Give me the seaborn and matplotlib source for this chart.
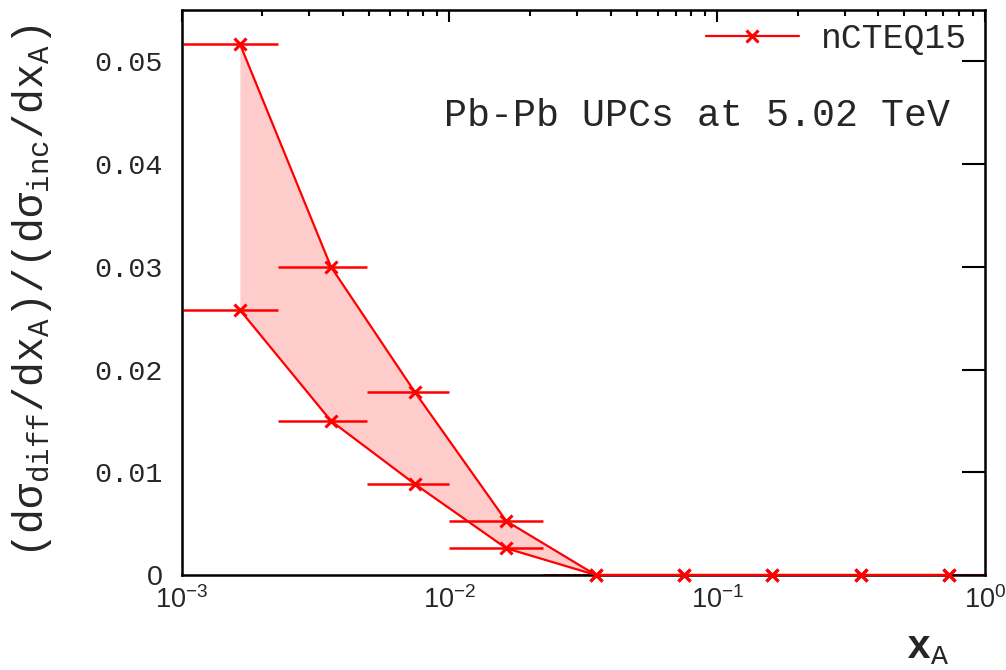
import matplotlib
matplotlib.use("Agg")
import matplotlib.pyplot as plt
import seaborn as sns
import numpy as np
import pandas as pd
from matplotlib.ticker import FixedLocator, FixedFormatter, LogLocator, NullFormatter

# ---- data ----
x_centers = [0.00165, 0.00361, 0.00743, 0.0163, 0.0352, 0.0751, 0.160, 0.344, 0.733]
x_low_edges = [0.00101, 0.00229, 0.00492, 0.0100, 0.0223, 0.0480, 0.102, 0.218, 0.470]
x_high_edges = [0.00229, 0.00492, 0.0100, 0.0223, 0.0480, 0.102, 0.218, 0.470, 1.0]
upper_vals = [0.0517, 0.0300, 0.0178, 0.00525, 0.0, 0.0, 0.0, 0.0, 0.0]
lower_vals = [0.0258, 0.0150, 0.00885, 0.0026, 0.0, 0.0, 0.0, 0.0, 0.0]

xtick_vals = [1e-3, 1e-2, 1e-1, 1.0]
xtick_labels = [r"$\mathsf{10^{-3}}$", r"$\mathsf{10^{-2}}$", r"$\mathsf{10^{-1}}$", r"$\mathsf{10^{0}}$"]
ytick_vals = [0.0, 0.01, 0.02, 0.03, 0.04, 0.05]
ytick_labels = ["0", "0.01", "0.02", "0.03", "0.04", "0.05"]

series_label = "nCTEQ15"
annotation = "Pb-Pb UPCs at 5.02 TeV"
ylabel = r"(dσ$_{\mathrm{diff}}$/dx$_{\mathrm{A}}$)/(dσ$_{\mathrm{inc}}$/dx$_{\mathrm{A}}$)"
xlabel = r"$\mathbf{x}_{\mathrm{A}}$"

# ---- style ----
sns.set_style("white")
plt.rcParams["font.family"] = ["Liberation Mono", "DejaVu Sans"]
plt.rcParams["mathtext.fontset"] = "custom"
plt.rcParams["mathtext.rm"] = "Liberation Mono"
plt.rcParams["mathtext.it"] = "Liberation Mono"
plt.rcParams["mathtext.bf"] = "Liberation Mono:bold"
plt.rcParams["mathtext.sf"] = "Liberation Sans"

red = "#ff0000"
band = "#ffcccc"

df = pd.DataFrame({"x": x_centers, "upper": upper_vals, "lower": lower_vals})
xc = np.array(x_centers)
xerr = [xc - np.array(x_low_edges), np.array(x_high_edges) - xc]

fig = plt.figure(figsize=(10.06, 6.70), dpi=100)
ax = fig.add_axes([0.1806, 0.1418, 0.7985, 0.8433])
ax.set_xscale("log")

ax.fill_between(df["x"], df["lower"], df["upper"], color=band, lw=0, zorder=1)
ax.errorbar(df["x"], df["upper"], xerr=xerr, fmt="none", ecolor=red, elinewidth=1.8, capsize=0, zorder=2)
ax.errorbar(df["x"], df["lower"], xerr=xerr, fmt="none", ecolor=red, elinewidth=1.8, capsize=0, zorder=2)

line_kw = dict(color=red, lw=1.6, marker="x", markersize=8, markeredgewidth=2.2,
               markeredgecolor=red, clip_on=False, zorder=3, errorbar=None)
sns.lineplot(data=df, x="x", y="upper", ax=ax, label=series_label, **line_kw)
sns.lineplot(data=df, x="x", y="lower", ax=ax, legend=False, **line_kw)

ax.set_xlim(1e-3, 1.0)
ax.set_ylim(0, 0.055)

# ticks
ax.xaxis.set_major_locator(FixedLocator(xtick_vals))
ax.xaxis.set_major_formatter(FixedFormatter(xtick_labels))
ax.xaxis.set_minor_locator(LogLocator(base=10, subs=np.arange(2, 10)))
ax.xaxis.set_minor_formatter(NullFormatter())
ax.set_yticks(ytick_vals, labels=ytick_labels)
ax.yaxis.set_minor_locator(FixedLocator([]))

ax.tick_params(which="both", direction="in", top=True, right=True, width=1.5, color="black")
ax.xaxis.set_tick_params(which="major", length=8.6, pad=8, labelsize=19.5)
ax.xaxis.set_tick_params(which="minor", length=4.0)
ax.yaxis.set_tick_params(which="major", length=16.5, pad=13.5, labelsize=20.5)
for lbl in ax.get_yticklabels():
    lbl.set_fontfamily("Liberation Mono")
ax.get_yticklabels()[0].set_fontfamily("Liberation Sans")

for sp in ax.spines.values():
    sp.set_linewidth(1.8)
    sp.set_color("black")
    sp.set_zorder(2.5)

ax.set_xlabel("")
ax.set_ylabel("")

leg = ax.legend(loc="upper right", bbox_to_anchor=(0.978, 0.978), frameon=False,
                fontsize=25, handlelength=2.7, handletextpad=0.63,
                borderaxespad=0, borderpad=0)

ax.text(0.9564, 0.7947, annotation, transform=ax.transAxes, ha="right", va="baseline",
        fontsize=27.5)
ax.text(0.9564, -0.1469, xlabel, transform=ax.transAxes, ha="right", va="baseline",
        fontsize=29)
fig.text(0.0318, 0.5657, ylabel, rotation=90, ha="center", va="center", fontsize=30)

fig.savefig("out.png", dpi=100)
